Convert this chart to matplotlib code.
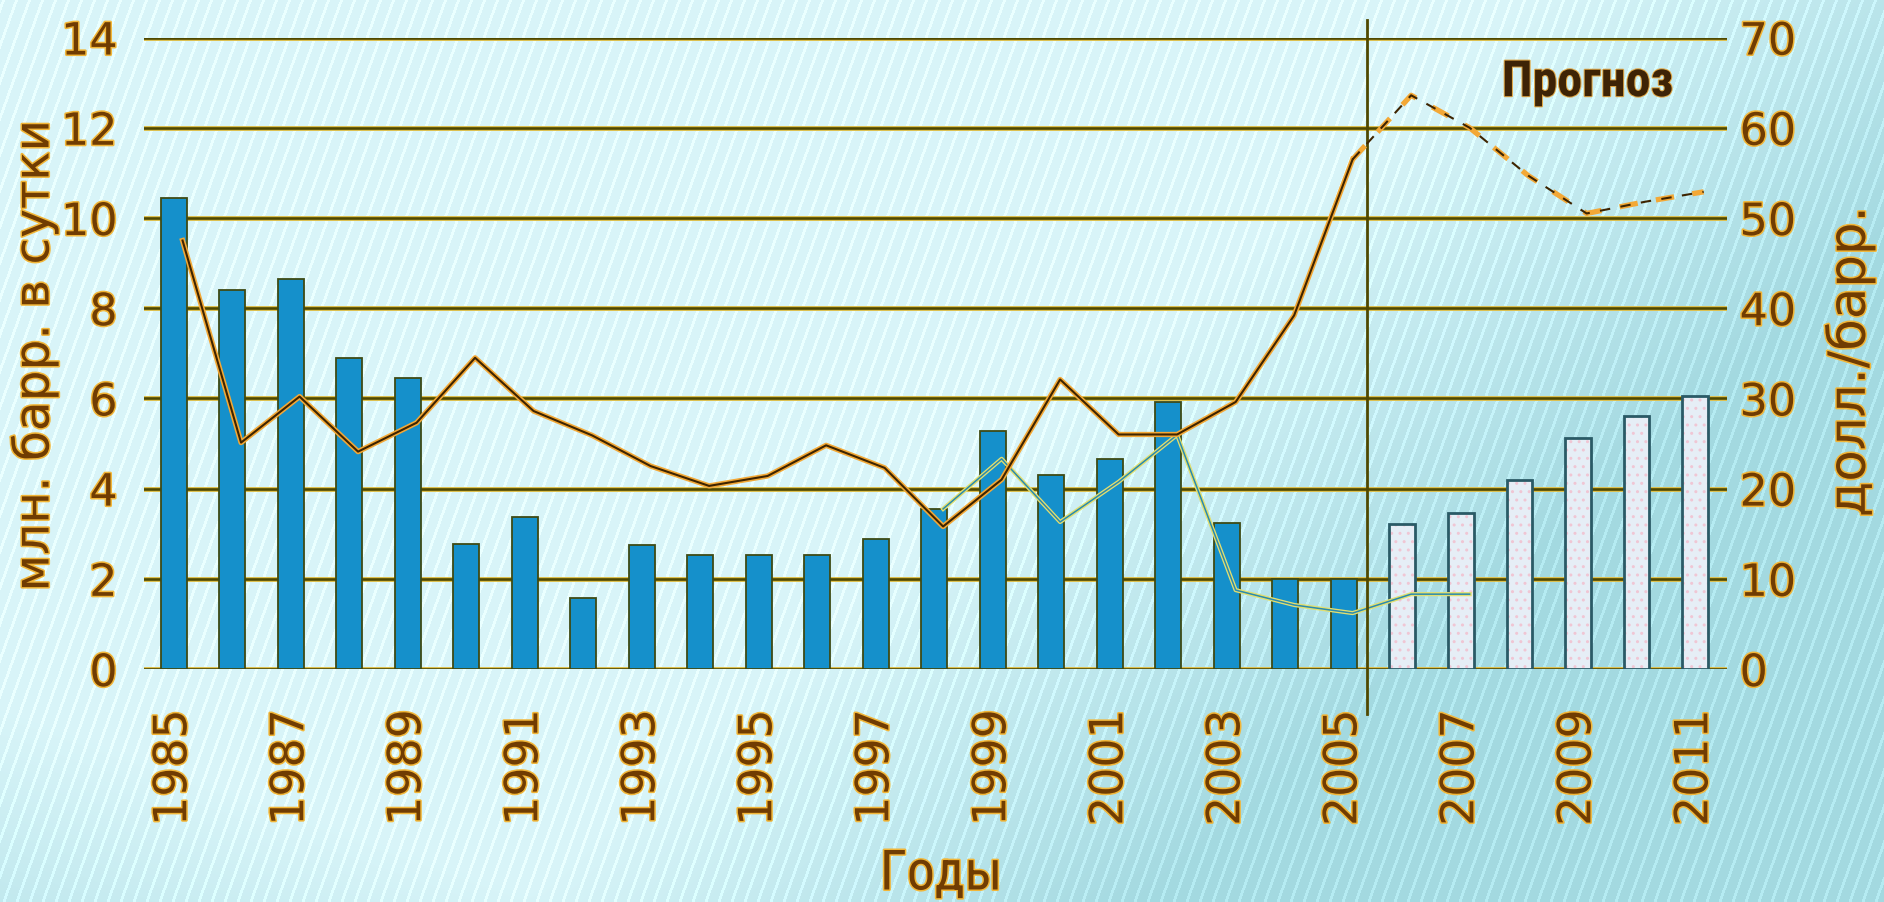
import numpy as np
import matplotlib
matplotlib.use("Agg")
import matplotlib.pyplot as plt
import matplotlib.patheffects as pe
from matplotlib import font_manager

# ---- data ----
hist_years = list(range(1985, 2006))
hist_output = [10.45, 8.4, 8.65, 6.9, 6.45, 2.78, 3.38, 1.58, 2.76, 2.52, 2.52,
               2.52, 2.88, 3.55, 5.27, 4.3, 4.65, 5.93, 3.23, 2.0, 2.0]   # млн. барр. в сутки
fcst_years = list(range(2006, 2012))
fcst_output = [3.22, 3.46, 4.18, 5.12, 5.62, 6.05]

price_years = list(range(1985, 2006))
price = [47.5, 25.1, 30.2, 24.1, 27.3, 34.5, 28.6, 25.9, 22.5, 20.3, 21.4,
         24.8, 22.3, 15.8, 21.0, 32.1, 26.0, 26.0, 29.6, 39.2, 56.5]      # долл./барр.
price_fcst_years = list(range(2005, 2012))
price_fcst = [56.5, 63.6, 60.0, 54.7, 50.5, 51.8, 52.9]

thin_years = list(range(1998, 2008))
thin_vals = [3.55, 4.66, 3.26, 4.15, 5.19, 1.75, 1.42, 1.24, 1.66, 1.66]

left_ticks = [0, 2, 4, 6, 8, 10, 12, 14]
right_ticks = [0, 10, 20, 30, 40, 50, 60, 70]
label_years = list(range(1985, 2012, 2))
forecast_split = 2005.4

# ---- styles ----
BROWN = "#703c02"
HALO = [pe.withStroke(linewidth=2.2, foreground="#f2b638")]
LINE_SHIFT = 0.15


def pick_font(names, fallback="DejaVu Sans"):
    for name in names:
        try:
            font_manager.findfont(name, fallback_to_default=False)
            return name
        except Exception:
            pass
    return fallback


narrow = pick_font(["Liberation Sans Narrow", "DejaVu Sans Condensed",
                    "Roboto Condensed", "Open Sans Condensed"])
is_narrow = narrow != "DejaVu Sans"

fig = plt.figure(figsize=(18.84, 9.03), dpi=100)

# background: light cyan with faint diagonal stripes, darker teal lower right
H, W = 903, 1884
yy, xx = np.mgrid[0:H, 0:W]
base = np.array([0.85, 0.96, 0.975])
teal = np.array([0.62, 0.84, 0.87])
t = np.clip((xx / W - 0.62) * 3.0 + (yy / H - 0.35) * 1.6, 0, 1) * 0.9
t += np.clip((yy / H - 0.78) * 3.0 - xx / W * 2.2, 0, 1) * 0.6
t = np.clip(t, 0, 1)[..., None]
img = base * (1 - t) + teal * t
stripes = (np.sin(2 * np.pi * (xx + 0.36 * yy) / 13.0) > 0.75)[..., None]
img = np.clip(img + stripes * 0.07, 0, 1)
bg = fig.add_axes([0, 0, 1, 1], zorder=-10)
bg.imshow(img, aspect="auto", interpolation="bilinear")
bg.axis("off")

ax = fig.add_axes([0.0764, 0.258, 0.8403, 0.6993])
ax.patch.set_alpha(0)
ax2 = ax.twinx()
ax2.patch.set_alpha(0)

# gridlines (olive with yellow halo)
for v in left_ticks:
    ax.axhline(v, color="#dcc050", lw=3.6, zorder=1)
    ax.axhline(v, color="#4f4800", lw=1.9, zorder=1.1)

# bars
ax.bar(hist_years, hist_output, width=0.44, color="#1590cb",
       edgecolor="#3e4a14", linewidth=1.3, zorder=2)
ax.bar(fcst_years, fcst_output, width=0.44, color="#e6eef6",
       edgecolor="#f0c6d4", hatch="..", linewidth=0, zorder=2)
ax.bar(fcst_years, fcst_output, width=0.44, color="none",
       edgecolor="#2a5a66", linewidth=2.0, zorder=2.1)

# thin line (left axis)
tx = [y + LINE_SHIFT for y in thin_years]
ax.plot(tx, thin_vals, color="#e2df70", lw=3.0, zorder=3)
ax.plot(tx, thin_vals, color="#2a8aae", lw=1.1, zorder=3.1)

# price line (right axis)
px = [y + LINE_SHIFT for y in price_years]
ax2.plot(px, price, color="#f3a836", lw=3.8, zorder=3)
ax2.plot(px, price, color="#3e2400", lw=1.5, zorder=3.1)
pfx = [y + LINE_SHIFT for y in price_fcst_years]
ax2.plot(pfx, price_fcst, color="#f3a836", lw=3.8, ls=(0, (3.5, 3.5)), zorder=3)
ax2.plot(pfx, price_fcst, color="#3e2400", lw=1.5, ls=(0, (5, 5)), zorder=3.1)

# forecast divider
ax.plot([forecast_split, forecast_split], [-1.0, 14.4], color="#4f4800",
        lw=2.0, zorder=4, clip_on=False)
ax.text(2007.7, 13.0, "Прогноз", family=narrow,
        fontsize=36 if is_narrow else 28, fontweight="bold", color="#3d2306",
        va="center", ha="left", zorder=5,
        path_effects=[pe.withStroke(linewidth=1.5, foreground="#e0a848")])

ax.set_xlim(1984.49, 2011.55)
ax.set_ylim(0, 14)
ax2.set_ylim(0, 70)

ax.set_xticks(label_years)
ax.set_xticklabels([str(y) for y in label_years], rotation=90)
ax.set_yticks(left_ticks)
ax2.set_yticks(right_ticks)

ax.tick_params(axis="x", length=0, pad=29, labelsize=33, labelcolor=BROWN)
ax.tick_params(axis="y", length=0, pad=19, labelsize=32, labelcolor=BROWN)
ax2.tick_params(axis="y", length=0, pad=9, labelsize=32, labelcolor=BROWN)
for lab in ax.get_xticklabels() + ax.get_yticklabels() + ax2.get_yticklabels():
    lab.set_path_effects(HALO)

for a in (ax, ax2):
    for s in a.spines.values():
        s.set_visible(False)

fig.text(0.018, 0.605, "млн. барр. в сутки", rotation=90, fontsize=35,
         color=BROWN, ha="center", va="center", path_effects=HALO)
fig.text(0.982, 0.598, "долл./барр.", rotation=90, fontsize=37,
         color=BROWN, ha="center", va="center", path_effects=HALO)
fig.text(0.4995, 0.031, "Годы", family=narrow,
         fontsize=40 if is_narrow else 31,
         color=BROWN, ha="center", va="center", path_effects=HALO)

fig.savefig("out.png", dpi=100)
